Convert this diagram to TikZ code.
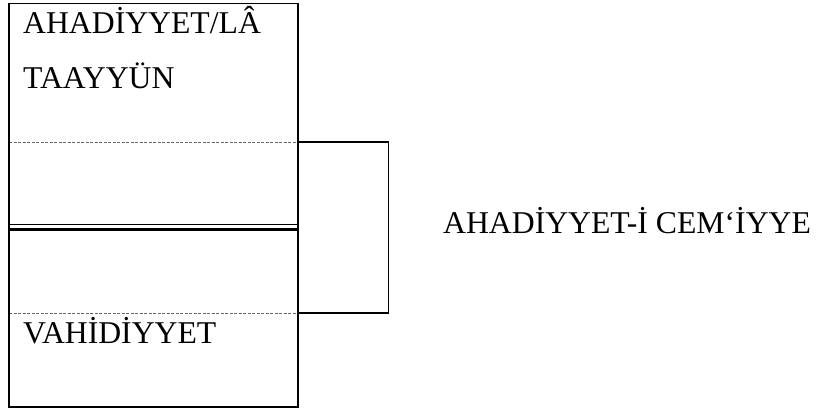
\documentclass[tikz,border=0pt]{standalone}
\usepackage{fontspec}
\setmainfont{Liberation Serif}
\begin{document}
\begin{tikzpicture}[x=1pt,y=-1pt,
  frame/.style={line width=1.7pt, black},
  divider/.style={line width=0.9pt, gray!80!black, dash pattern=on 3pt off 1.5pt},
  label/.style={anchor=base west, inner sep=0pt, font=\fontsize{31.7}{38}\selectfont}]
\useasboundingbox (0,0) rectangle (818,410);
% outer box corners
\coordinate (tl) at (9,3.5);
\coordinate (br) at (298,407);
% dashed section lines and bracket
\coordinate (d1l) at (9,142);
\coordinate (d1r) at (298,142);
\coordinate (d2l) at (9,313);
\coordinate (d2r) at (298,313);
\coordinate (bx) at (388.5,0);
% double separator
\coordinate (s1l) at (9,224.5);
\coordinate (s1r) at (298,224.5);
\coordinate (s2l) at (9,229);
\coordinate (s2r) at (298,229);

\draw[divider] (d1l) -- (d1r);
\draw[divider] (d2l) -- (d2r);
\draw[line width=1.3pt] (s1l) -- (s1r);
\draw[line width=3pt] (s2l) -- (s2r);
\draw[frame] (tl) rectangle (br);
\draw[frame] (d1r) -- (d1r -| bx) -- (d2r -| bx) -- (d2r);

\node[label] (ahad) at (23,33) {AHADİYYET/LÂ};
\node[label] (taay) at (23,88) {TAAYYÜN};
\node[label] (vahi) at (23,343) {VAHİDİYYET};
\node[label] (cem) at (443,233) {AHADİYYET-İ CEM‘İYYE};
\end{tikzpicture}
\end{document}
